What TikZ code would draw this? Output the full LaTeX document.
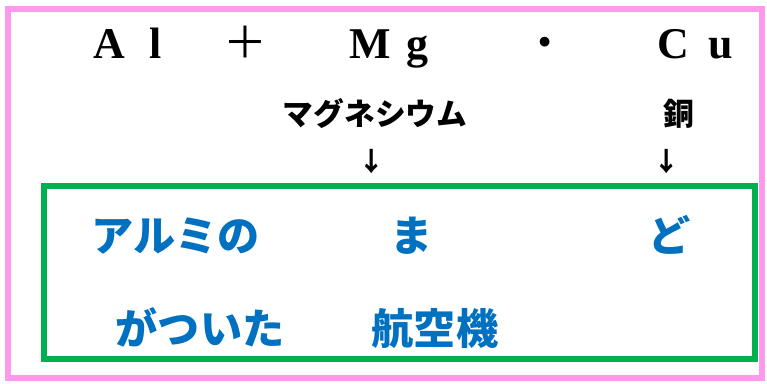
\documentclass[tikz,border=0pt]{standalone}
\usepackage{fontspec}
\setmainfont{Liberation Serif}
\newfontfamily\jpfont{Noto Sans CJK JP}
\usepackage{xcolor}
\usepackage{tikz}
\usetikzlibrary{positioning}

\definecolor{framepink}{HTML}{FF99EE}
\definecolor{boxgreen}{HTML}{00B050}
\definecolor{wordblue}{HTML}{0070C0}

\begin{document}
\begin{tikzpicture}[x=0.02cm, y=-0.02cm,
  elem/.style={inner sep=0pt, anchor=base, font=\fontsize{25}{25}\selectfont\bfseries},
  reading/.style={inner sep=0pt, anchor=base, font=\jpfont\fontsize{17.5}{17.5}\selectfont\bfseries},
  word/.style={inner sep=0pt, anchor=base, text=wordblue, font=\jpfont\fontsize{24}{24}\selectfont\bfseries}]
  \useasboundingbox (0,0) rectangle (767,383);

  % frames
  \draw [framepink, line width=3.2pt] (8,9) rectangle (762,378);
  \draw [boxgreen, line width=3pt] (44,186) rectangle (755,359);

  % formula
  \node [elem] (al) at (128,58) {A\hspace{0.55em}l};
  \node [elem] (plus) at (245,58) {\jpfont\mdseries ＋};
  \node [elem] (mg) at (389,58) {M\hspace{0.35em}g};
  \node [elem, font=\jpfont\fontsize{20}{20}\selectfont\bfseries] (dot) at (545,55) {・};
  \node [elem] (cu) at (695,58) {C\hspace{0.45em}u};

  \node [reading] (mgname) at (375,125) {マグネシウム};
  \node [reading] (cuname) at (679,125) {銅};
  \node [reading, font=\jpfont\fontsize{15}{15}\selectfont\bfseries] (mgarrow) at (372,171) {↓};
  \node [reading, font=\jpfont\fontsize{15}{15}\selectfont\bfseries] (cuarrow) at (667,171) {↓};

  % mnemonic
  \node [word] (alumi) at (176,251) {アルミの};
  \node [word] (ma) at (412,251) {ま};
  \node [word] (do) at (670,251) {ど};
  \node [word] (tsuita) at (200,344) {がついた};
  \node [word] (kouki) at (435,344) {航空機};
\end{tikzpicture}
\end{document}
